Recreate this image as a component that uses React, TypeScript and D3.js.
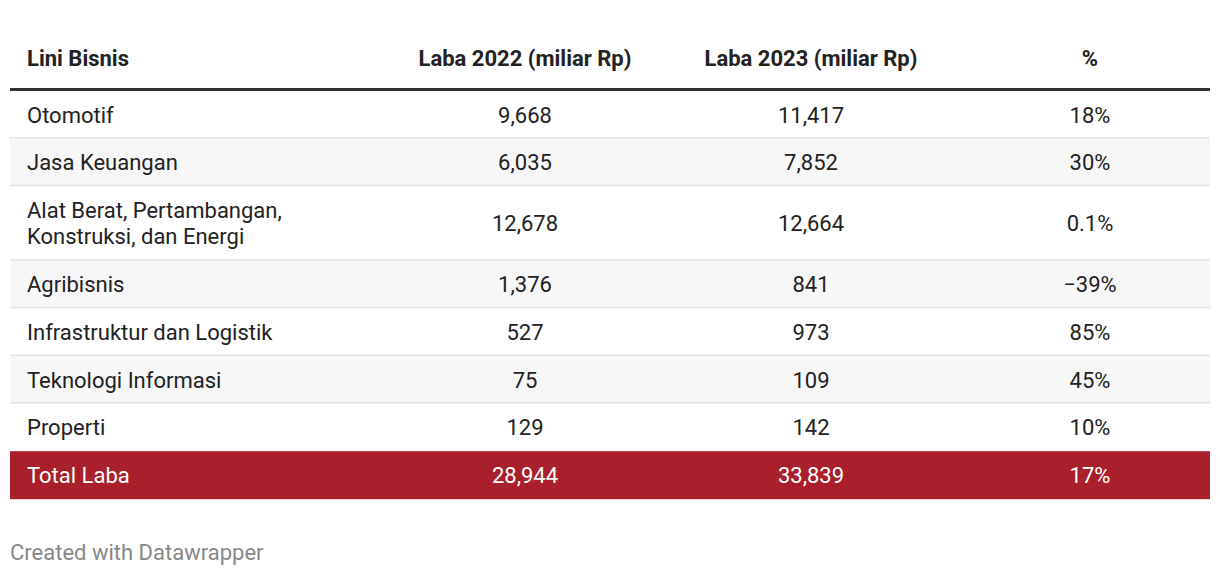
import React from "react";
import * as d3 from "d3";

const headers = ["Lini Bisnis", "Laba 2022 (miliar Rp)", "Laba 2023 (miliar Rp)", "%"];
const categories = [
  ["Otomotif"],
  ["Jasa Keuangan"],
  ["Alat Berat, Pertambangan,", "Konstruksi, dan Energi"],
  ["Agribisnis"],
  ["Infrastruktur dan Logistik"],
  ["Teknologi Informasi"],
  ["Properti"],
];
const laba2022 = [9668, 6035, 12678, 1376, 527, 75, 129];
const laba2023 = [11417, 7852, 12664, 841, 973, 109, 142];
const pct = [18, 30, 0.1, -39, 85, 45, 10];
const totalLabel = "Total Laba";
const total2022 = 28944;
const total2023 = 33839;
const totalPct = 17;
const footer = "Created with Datawrapper";

const W = 1220;
const H = 576;
const left = 10;
const right = 1210;
const font = "Roboto, 'Noto Sans', sans-serif";
const fmtNum = d3.format(",");
const fmtPct = (v: number) => (Number.isInteger(v) ? d3.format("d")(v) : d3.format(".1f")(v)) + "%";

export default function App() {
  const colX = [27, 525, 811, 1090];
  const headerY = 58;
  const lineY = 89.5;
  const rowTop = 91;
  const singleH = 47.6;
  const doubleH = 74.6;
  const lineH = 26;
  const fs = 22;

  let y = rowTop;
  const rows = categories.map((c, i) => {
    const h = c.length > 1 ? doubleH : singleH;
    const r = { top: y, h, i };
    y += h;
    return r;
  });
  const totalTop = y;
  const totalH = 48;

  return (
    <svg width={W} height={H} style={{ position: "absolute", left: 0, top: 0, background: "#fff" }} fontFamily={font}>
      <rect x={0} y={0} width={W} height={H} fill="#fff" />
      {headers.map((h, j) => (
        <text key={h} x={colX[j]} y={headerY} dy="0.35em" fontSize={fs} fontWeight={700} fill="#222" textAnchor={j === 0 ? "start" : "middle"}>
          {h}
        </text>
      ))}
      <line x1={left} x2={right} y1={lineY} y2={lineY} stroke="#333" strokeWidth={3} />
      {rows.map(({ top, h, i }) => {
        const cy = top + h / 2;
        const lines = categories[i];
        return (
          <g key={i}>
            <rect x={left} y={top} width={right - left} height={h} fill={i % 2 === 1 ? "#f7f7f7" : "#fff"} />
            {i < rows.length - 1 && (
              <line x1={left} x2={right} y1={top + h - 0.5} y2={top + h - 0.5} stroke="#e3e3e3" strokeWidth={2} />
            )}
            {lines.map((t, k) => (
              <text key={k} x={colX[0]} y={cy + (k - (lines.length - 1) / 2) * lineH} dy="0.35em" fontSize={fs} fill="#222">
                {t}
              </text>
            ))}
            <text x={colX[1]} y={cy} dy="0.35em" fontSize={fs} fill="#222" textAnchor="middle">{fmtNum(laba2022[i])}</text>
            <text x={colX[2]} y={cy} dy="0.35em" fontSize={fs} fill="#222" textAnchor="middle">{fmtNum(laba2023[i])}</text>
            <text x={colX[3]} y={cy} dy="0.35em" fontSize={fs} fill="#222" textAnchor="middle">{fmtPct(pct[i])}</text>
          </g>
        );
      })}
      <rect x={left} y={totalTop} width={right - left} height={totalH} fill="#a91f2b" />
      {[totalLabel, fmtNum(total2022), fmtNum(total2023), fmtPct(totalPct)].map((t, j) => (
        <text key={j} x={colX[j]} y={totalTop + totalH / 2} dy="0.35em" fontSize={fs} fill="#fff" textAnchor={j === 0 ? "start" : "middle"}>
          {t}
        </text>
      ))}
      <text x={left} y={552} dy="0.35em" fontSize={fs} fill="#888">{footer}</text>
    </svg>
  );
}
